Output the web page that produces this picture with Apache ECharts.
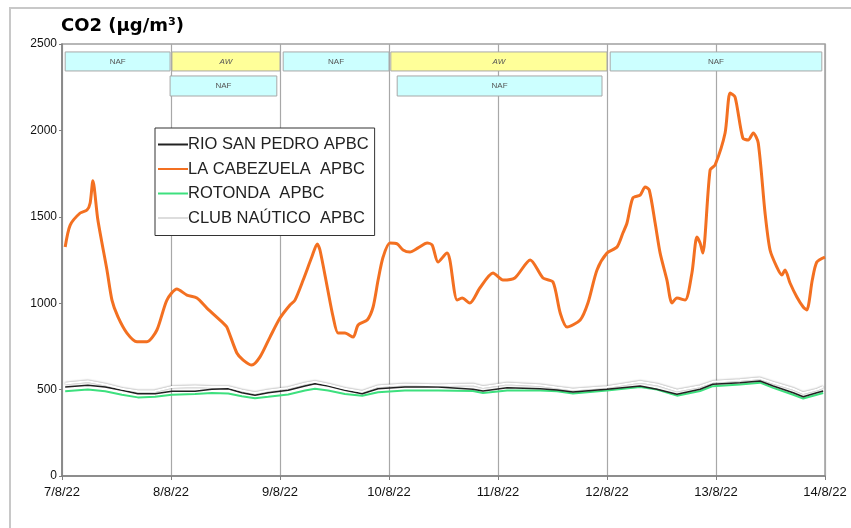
<!DOCTYPE html>
<html><head><meta charset="utf-8">
<script src="https://cdn.jsdelivr.net/npm/echarts@6/dist/echarts.min.js"></script>
<style>html,body{margin:0;padding:0;background:#fff}#c{width:851px;height:528px}</style>
</head><body><div id="c"></div>
<script>
// ---- data ----
const dayLabels = ['7/8/22','8/8/22','9/8/22','10/8/22','11/8/22','12/8/22','13/8/22','14/8/22'];
const seriesNames = ['RIO SAN PEDRO APBC','LA CABEZUELA  APBC','ROTONDA  APBC','CLUB NAÚTICO  APBC'];

// hours since 7/8/22 00:00
const cabHours = [0.7,1.8,4.0,5.5,6.2,6.8,7.9,9.9,11.0,12.3,14.3,16.5,18.7,20.9,23.1,25.3,27.5,29.7,31.9,35.5,36.3,38.5,39.9,41.8,43.6,45.8,48.0,50.2,51.3,53.1,55.0,56.2,56.8,58.4,59.7,60.8,62.3,64.1,65.2,67.2,68.5,69.6,70.7,72.2,73.8,75.1,76.6,78.4,80.4,81.5,82.8,84.8,85.4,87.0,88.1,89.8,92.0,94.9,97.1,99.7,103.1,105.9,108.1,109.7,111.2,114.1,115.8,117.8,120.0,122.2,123.5,124.4,125.7,127.3,128.4,129.3,130.6,131.7,133.2,134.3,135.4,137.2,138.7,139.8,140.5,141.1,142.7,143.8,146.0,147.1,148.2,149.9,151.1,152.2,153.3,154.8,155.9,157.4,158.5,159.2,160.3,161.8,163.2,164.0,165.2,166.2,168.0];
const cabValues = [1325,1452,1522,1539,1580,1709,1481,1192,1018,922,827,777,777,845,1018,1082,1047,1030,972,885,862,712,671,642,689,804,914,990,1018,1134,1267,1343,1308,1094,920,827,827,804,874,903,978,1134,1267,1348,1343,1308,1296,1320,1348,1337,1238,1290,1250,1018,1030,1001,1088,1175,1134,1146,1250,1146,1123,943,862,903,1001,1192,1290,1325,1406,1464,1609,1626,1672,1655,1464,1290,1134,1001,1030,1018,1175,1383,1348,1290,1771,1800,1985,2216,2193,1956,1944,1985,1927,1522,1308,1209,1163,1192,1117,1036,978,961,1134,1238,1267];

const lowHours = [0.7,5.7,9.5,13.2,16.7,20.5,24.2,29.3,33.0,36.6,39.6,42.5,45.4,49.8,53.5,55.7,58.6,62.3,66.1,69.6,75.5,82.8,90.5,92.7,98.0,105.3,109.0,112.5,120.0,127.3,131.0,135.4,140.5,143.3,149.3,153.7,156.6,161.0,163.2,166.2,167.6];
const rioValues  = [515,525,515,496,476,476,490,490,502,505,482,467,482,496,521,534,521,496,476,505,515,515,502,492,511,505,498,486,502,521,502,473,502,531,540,550,521,482,459,482,492];
const rotValues  = [490,500,490,470,455,458,470,475,480,478,462,450,458,472,495,505,495,475,465,485,495,495,492,480,495,495,490,478,495,515,500,465,492,520,530,540,510,470,448,470,480];
const clubValues = [535,548,530,505,490,492,515,520,515,515,495,480,495,510,535,545,530,505,488,520,530,525,530,515,535,525,512,500,515,545,530,495,520,545,555,565,540,505,480,500,515];

// annotation bands (hours)
const annStart = [0.7, 24.2, 48.7, 72.4, 120.7, 23.8, 73.8];
const annEnd   = [23.8, 48.0, 72.0, 120.0, 167.3, 47.3, 118.9];
const annLabel = ['NAF','AW','NAF','AW','NAF','NAF','NAF'];
const annRow   = [0, 0, 0, 0, 0, 1, 1];

// ---- chart ----
const zip = (xs, ys) => xs.map((x, i) => [x, ys[i]]);
const rowTop = [2454, 2315], rowBottom = [2344, 2199];
const annColors = { NAF: '#CCFFFF', AW: '#FFFF99' };
const markData = annLabel.map((lab, i) => [
  { xAxis: annStart[i], yAxis: rowTop[annRow[i]], name: lab,
    itemStyle: { color: annColors[lab], borderColor: '#A8A8A8', borderWidth: 1 },
    label: { fontStyle: lab === 'AW' ? 'italic' : 'normal' } },
  { xAxis: annEnd[i], yAxis: rowBottom[annRow[i]] }
]);

const chart = echarts.init(document.getElementById('c'), null, { renderer: 'canvas' });
chart.setOption({
  animation: false,
  backgroundColor: '#fff',
  title: {
    text: 'CO2 (µg/m³)', left: 56, top: 12,
    textStyle: { fontFamily: 'DejaVu Sans', fontWeight: 'bold', fontSize: 18, color: '#000' }
  },
  graphic: [{
    type: 'rect', shape: { x: 10, y: 8, width: 900, height: 600 },
    style: { fill: 'none', stroke: '#C8C8C8', lineWidth: 2 }, silent: true, z: -10
  }],
  grid: { left: 62, right: 26, top: 44, bottom: 52, show: true, borderColor: '#A0A0A0', borderWidth: 1.5 },
  legend: {
    orient: 'vertical', left: 155, top: 128, padding: [8, 6, 9, 3],
    backgroundColor: '#fff', borderColor: '#333', borderWidth: 1,
    itemWidth: 30, itemHeight: 14, itemGap: 7.5,
    textStyle: { fontFamily: 'Liberation Sans', fontSize: 16.5, color: '#222', padding: [0, 0, 0, -5] },
    data: seriesNames.map(n => ({ name: n, icon: 'path://M0,6 L30,6 L30,8 L0,8 Z' }))
  },
  xAxis: {
    type: 'value', min: 0, max: 168, interval: 24,
    axisLine: { lineStyle: { color: '#808080', width: 1.5 } },
    axisTick: { show: true, length: 4, lineStyle: { color: '#808080' } },
    splitLine: { show: true, lineStyle: { color: '#A8A8A8', width: 1.2 } },
    axisLabel: {
      fontFamily: 'Liberation Sans', fontSize: 13, color: '#111', margin: 10,
      formatter: v => dayLabels[Math.round(v / 24)]
    }
  },
  yAxis: {
    type: 'value', min: 0, max: 2500, interval: 500,
    axisLine: { show: true, lineStyle: { color: '#808080', width: 1.5 } },
    axisTick: { show: true, length: 3, lineStyle: { color: '#808080' } },
    splitLine: { show: false },
    axisLabel: { fontFamily: 'Liberation Sans', fontSize: 12, color: '#111', margin: 5, formatter: v => String(v) }
  },
  series: [
    {
      name: seriesNames[0], type: 'line', data: zip(lowHours, rioValues), symbol: 'none', z: 4,
      lineStyle: { color: '#222', width: 1.5 }, itemStyle: { color: '#222' },
      markArea: {
        silent: true, z: 1,
        label: { show: true, position: 'inside', fontSize: 8, color: '#555', fontFamily: 'Liberation Sans' },
        data: markData
      }
    },
    {
      name: seriesNames[1], type: 'line', data: zip(cabHours, cabValues), symbol: 'none', smooth: 0.25, z: 3,
      lineStyle: { color: '#F37021', width: 3 }, itemStyle: { color: '#F37021' }
    },
    {
      name: seriesNames[2], type: 'line', data: zip(lowHours, rotValues), symbol: 'none', z: 2,
      lineStyle: { color: '#3DE07E', width: 2 }, itemStyle: { color: '#3DE07E' }
    },
    {
      name: seriesNames[3], type: 'line', data: zip(lowHours, clubValues), symbol: 'none', z: 5,
      lineStyle: { color: '#FFFFFF', width: 2, shadowColor: 'rgba(0,0,0,0.55)', shadowBlur: 2 },
      itemStyle: { color: '#DDDDDD' }
    }
  ]
});
</script></body></html>
